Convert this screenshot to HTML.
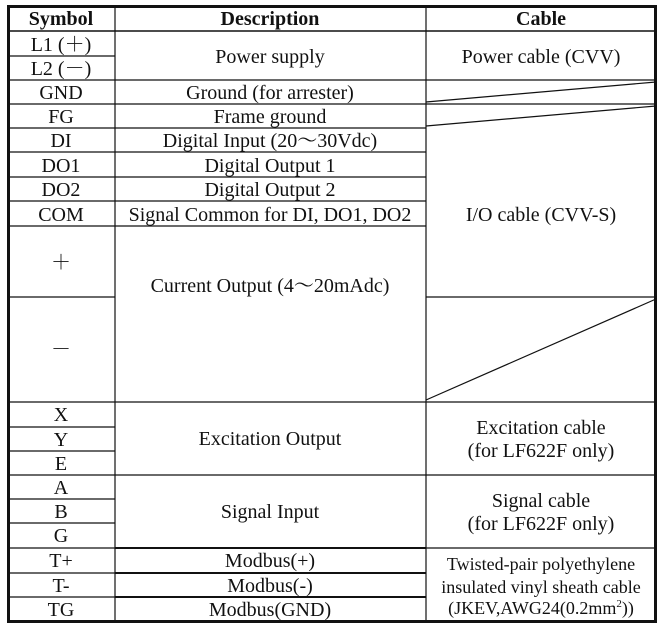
<!DOCTYPE html>
<html><head><meta charset="utf-8"><style>
html,body{margin:0;padding:0;background:#fff;}
svg{display:block;}
text{font-family:"Liberation Serif","Noto Serif CJK SC",serif;font-size:20px;fill:#111;text-anchor:middle;}
.b{font-weight:bold;}
line{stroke:#111;stroke-width:1.2;}
</style></head><body>
<svg width="662" height="629" viewBox="0 0 662 629">
<rect x="0" y="0" width="662" height="629" fill="#fff"/>
<line x1="115" y1="6" x2="115" y2="622"/>
<line x1="426" y1="6" x2="426" y2="622"/>
<line x1="8" y1="31" x2="656" y2="31" style="stroke-width:1.5"/>
<g>
<line x1="8" y1="56" x2="115" y2="56"/>
<line x1="8" y1="80" x2="656" y2="80"/>
<line x1="8" y1="104" x2="656" y2="104"/>
<line x1="8" y1="128" x2="426" y2="128"/>
<line x1="8" y1="152" x2="426" y2="152"/>
<line x1="8" y1="177" x2="426" y2="177"/>
<line x1="8" y1="201" x2="426" y2="201"/>
<line x1="8" y1="226" x2="426" y2="226"/>
<line x1="8" y1="297" x2="115" y2="297"/>
<line x1="426" y1="297" x2="656" y2="297"/>
<line x1="8" y1="402" x2="656" y2="402"/>
<line x1="8" y1="427" x2="115" y2="427"/>
<line x1="8" y1="451" x2="115" y2="451"/>
<line x1="8" y1="475" x2="656" y2="475"/>
<line x1="8" y1="499" x2="115" y2="499"/>
<line x1="8" y1="523" x2="115" y2="523"/>
<line x1="8" y1="548" x2="656" y2="548"/>
<line x1="115" y1="548" x2="426" y2="548" style="stroke-width:2"/>
<line x1="8" y1="573" x2="115" y2="573"/>
<line x1="115" y1="573" x2="426" y2="573" style="stroke-width:2"/>
<line x1="8" y1="597" x2="115" y2="597"/>
<line x1="115" y1="597" x2="426" y2="597" style="stroke-width:2"/>
</g>
<line x1="426" y1="102" x2="656" y2="82"/>
<line x1="426" y1="126" x2="656" y2="106"/>
<line x1="426" y1="400" x2="656" y2="299"/>
<rect x="8.5" y="6.5" width="647" height="615" fill="none" stroke="#111" stroke-width="3"/>
<text class="b" x="61" y="25">Symbol</text>
<text class="b" x="270" y="25">Description</text>
<text class="b" x="541" y="25">Cable</text>
<text x="61" y="51">L1 (＋)</text>
<text x="61" y="75">L2 (－)</text>
<text x="61" y="99">GND</text>
<text x="61" y="123">FG</text>
<text x="61" y="147">DI</text>
<text x="61" y="172">DO1</text>
<text x="61" y="196">DO2</text>
<text x="61" y="221">COM</text>
<text x="61" y="269">＋</text>
<text x="61" y="356">－</text>
<text x="61" y="421">X</text>
<text x="61" y="446">Y</text>
<text x="61" y="470">E</text>
<text x="61" y="494">A</text>
<text x="61" y="518">B</text>
<text x="61" y="542">G</text>
<text x="61" y="567">T+</text>
<text x="61" y="592">T-</text>
<text x="61" y="616">TG</text>
<text x="270" y="63">Power supply</text>
<text x="270" y="99">Ground (for arrester)</text>
<text x="270" y="123">Frame ground</text>
<text x="270" y="147">Digital Input (20～30Vdc)</text>
<text x="270" y="172">Digital Output 1</text>
<text x="270" y="196">Digital Output 2</text>
<text x="270" y="221">Signal Common for DI, DO1, DO2</text>
<text x="270" y="292">Current Output (4～20mAdc)</text>
<text x="270" y="445">Excitation Output</text>
<text x="270" y="518">Signal Input</text>
<text x="270" y="567">Modbus(+)</text>
<text x="270" y="592">Modbus(-)</text>
<text x="270" y="616">Modbus(GND)</text>
<text x="541" y="63">Power cable (CVV)</text>
<text x="541" y="221">I/O cable (CVV-S)</text>
<text x="541" y="434">Excitation cable</text>
<text x="541" y="457">(for LF622F only)</text>
<text x="541" y="507">Signal cable</text>
<text x="541" y="530">(for LF622F only)</text>
<text x="541" y="570" style="font-size:18px">Twisted-pair polyethylene</text>
<text x="541" y="593" style="font-size:18px">insulated vinyl sheath cable</text>
<text x="541" y="614" style="font-size:18px">(JKEV,AWG24(0.2mm<tspan dy="-7" style="font-size:11px">2</tspan><tspan dy="7">))</tspan></text>
</svg>
</body></html>
